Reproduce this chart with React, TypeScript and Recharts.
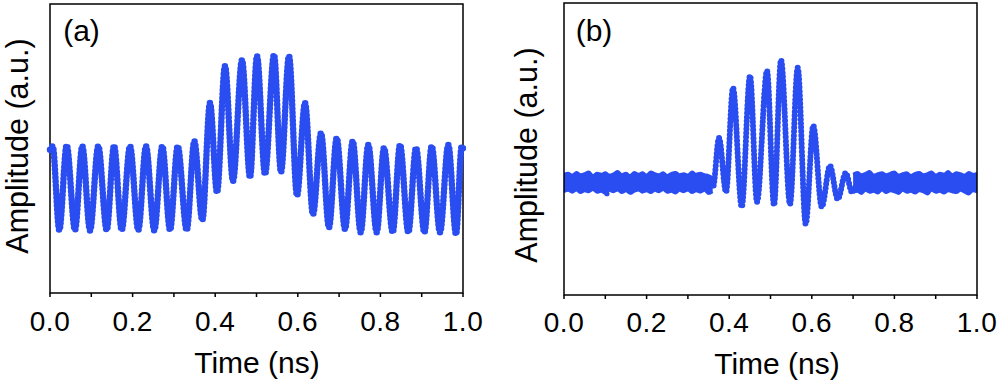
import { Area, ComposedChart, Line, ReferenceArea, Scatter, XAxis, YAxis } from "recharts";

const BLUE = "#2a4df2";
const FONT = "'Liberation Sans', Arial, sans-serif";

const timeTicks = [0, 0.1, 0.2, 0.3, 0.4, 0.5, 0.6, 0.7, 0.8, 0.9, 1.0];

// panel (a): peaks and troughs of the recorded waveform
const timeA = [
  0, 0.0065, 0.0225, 0.0404, 0.0605, 0.0782, 0.0969, 0.1169, 0.1373, 0.155, 0.1736,
  0.1937, 0.2138, 0.2324, 0.2525, 0.2719, 0.2906, 0.3092, 0.331, 0.3494, 0.3688,
  0.3874, 0.4044, 0.4237, 0.4431, 0.4649, 0.4843, 0.5012, 0.5206, 0.5424, 0.5593,
  0.5787, 0.5981, 0.6174, 0.6368, 0.6562, 0.6755, 0.6942, 0.7143, 0.7329, 0.7523,
  0.7707, 0.791, 0.8087, 0.8298, 0.8475, 0.8676, 0.8862, 0.9065, 0.9242, 0.9443,
  0.9644, 0.9831, 0.9969, 1.0,
];
const ampA = [
  0.85, 0.93, -0.93, 0.95, -0.93, 0.93, -0.94, 0.93, -0.93, 0.94, -0.93,
  0.93, -0.93, 0.93, -0.94, 0.93, -0.93, 0.93, -0.93, 1.04, -0.71,
  1.89, -0.09, 2.71, 0.16, 2.84, 0.24, 2.93, 0.31, 2.96, 0.36,
  2.93, -0.16, 1.89, -0.58, 1.22, -0.87, 1.11, -0.91, 1.04, -0.98,
  0.96, -0.98, 0.89, -0.98, 0.96, -0.98, 0.89, -0.98, 0.93, -0.98,
  0.96, -1.02, 0.93, 0.88,
];

// panel (b): noise floor edges before and after the pulse
const noiseTimeL = [
  0, 0.01, 0.02, 0.03, 0.04, 0.05, 0.06, 0.07, 0.08, 0.09, 0.1, 0.11, 0.12,
  0.13, 0.14, 0.15, 0.16, 0.17, 0.18, 0.19, 0.2, 0.21, 0.22, 0.23, 0.24, 0.25,
  0.26, 0.27, 0.28, 0.29, 0.3, 0.31, 0.32, 0.33, 0.34, 0.35, 0.36,
];
const noiseHiL = [
  0.2, 0.22, 0.18, 0.24, 0.19, 0.21, 0.25, 0.17, 0.22, 0.2, 0.23, 0.18, 0.21,
  0.26, 0.19, 0.22, 0.17, 0.24, 0.2, 0.23, 0.18, 0.25, 0.21, 0.19, 0.23, 0.17,
  0.22, 0.24, 0.19, 0.21, 0.18, 0.25, 0.2, 0.22, 0.19, 0.17, 0.12,
];
const noiseLoL = [
  -0.2, -0.17, -0.21, -0.16, -0.22, -0.18, -0.2, -0.15, -0.21, -0.19, -0.24, -0.17, -0.2,
  -0.16, -0.22, -0.18, -0.23, -0.19, -0.16, -0.21, -0.18, -0.22, -0.17, -0.2, -0.15, -0.21,
  -0.19, -0.23, -0.17, -0.2, -0.16, -0.22, -0.18, -0.21, -0.17, -0.24, -0.2,
];
const noiseTimeR = [
  0.7, 0.71, 0.72, 0.73, 0.74, 0.75, 0.76, 0.77, 0.78, 0.79, 0.8, 0.81, 0.82,
  0.83, 0.84, 0.85, 0.86, 0.87, 0.88, 0.89, 0.9, 0.91, 0.92, 0.93, 0.94, 0.95,
  0.96, 0.97, 0.98, 0.99, 1.0,
];
const noiseHiR = [
  0.2, 0.24, 0.19, 0.22, 0.26, 0.18, 0.21, 0.23, 0.19, 0.22, 0.25, 0.18, 0.21,
  0.23, 0.17, 0.22, 0.24, 0.19, 0.21, 0.25, 0.18, 0.22, 0.2, 0.26, 0.19, 0.23,
  0.21, 0.18, 0.24, 0.2, 0.22,
];
const noiseLoR = [
  -0.22, -0.19, -0.24, -0.17, -0.21, -0.19, -0.23, -0.16, -0.22, -0.18, -0.2, -0.24, -0.17,
  -0.21, -0.19, -0.23, -0.18, -0.2, -0.25, -0.17, -0.21, -0.19, -0.23, -0.18, -0.2, -0.22,
  -0.17, -0.21, -0.25, -0.18, -0.2,
];

// panel (b): pulse peaks and troughs
const timeB = [
  0.352, 0.3608, 0.3753, 0.3923, 0.4092, 0.4303, 0.4504, 0.4673, 0.4915, 0.5085, 0.5254,
  0.5472, 0.5659, 0.5852, 0.6036, 0.624, 0.644, 0.6627, 0.6821, 0.6973, 0.712,
];
const ampB = [
  0.02, -0.09, 1.0, -0.2, 2.11, -0.53, 2.38, -0.42, 2.49, -0.49, 2.73,
  -0.47, 2.56, -0.91, 1.27, -0.53, 0.38, -0.36, 0.22, -0.2, 0.02,
];

// stray samples below the noise floor
const strayTime = [0.104, 0.162];
const strayAmp = [-0.24, -0.2];

const rowsA = timeA.map((t, i) => ({ t, v: ampA[i] }));
const rowsB = [
  ...noiseTimeL.map((t, i) => ({ t, band: [noiseLoL[i], noiseHiL[i]] })),
  ...timeB.map((t, i) => ({ t, v: ampB[i] })),
  ...noiseTimeR.map((t, i) => ({ t, band: [noiseLoR[i], noiseHiR[i]] })),
];
const strayRows = strayTime.map((t, i) => ({ t, o: strayAmp[i] }));

const domainA: [number, number] = [-2.33, 4.09];
const domainB: [number, number] = [-2.49, 4.0];

const fmt = (v: number) => (Math.round(v * 10) % 2 === 0 ? v.toFixed(1) : "");

const tickStyle = { fill: "#000", fontSize: 28, fontFamily: FONT, letterSpacing: 0.5 };

export default function App() {
  return (
    <div style={{ position: "absolute", left: 0, top: 0, width: 1000, height: 384, background: "#fff" }}>
      <div style={{ position: "absolute", left: 0, top: 0 }}>
        <ComposedChart width={500} height={384} data={rowsA} margin={{ top: 4, right: 37, left: 50, bottom: 0 }}>
          <XAxis
            dataKey="t"
            type="number"
            domain={[0, 1]}
            ticks={timeTicks}
            tickFormatter={fmt}
            interval={0}
            height={91}
            axisLine={false}
            tickLine={{ stroke: "#000", strokeWidth: 1.5 }}
            tickSize={4}
            tickMargin={14}
            tick={tickStyle}
          />
          <YAxis hide domain={domainA} allowDataOverflow />
          <Line
            dataKey="v"
            type="monotone"
            stroke={BLUE}
            strokeWidth={6.5}
            strokeDasharray="0 4"
            strokeLinecap="round"
            dot={false}
            isAnimationActive={false}
          />
          <ReferenceArea x1={0} x2={1} y1={domainA[0]} y2={domainA[1]} fill="none" stroke="#000" strokeWidth={1.5} ifOverflow="visible" />
        </ComposedChart>
      </div>
      <div style={{ position: "absolute", left: 500, top: 0 }}>
        <ComposedChart width={500} height={384} data={rowsB} margin={{ top: 3, right: 23, left: 64, bottom: 0 }}>
          <XAxis
            dataKey="t"
            type="number"
            domain={[0, 1]}
            ticks={timeTicks}
            tickFormatter={fmt}
            interval={0}
            height={89}
            axisLine={false}
            tickLine={{ stroke: "#000", strokeWidth: 1.5 }}
            tickSize={4}
            tickMargin={13}
            tick={tickStyle}
          />
          <YAxis hide domain={domainB} allowDataOverflow />
          <Area
            dataKey="band"
            type="monotone"
            stroke={BLUE}
            strokeWidth={2.5}
            fill={BLUE}
            fillOpacity={1}
            dot={false}
            activeDot={false}
            isAnimationActive={false}
          />
          <Line
            dataKey="v"
            type="monotone"
            stroke={BLUE}
            strokeWidth={6}
            strokeDasharray="0 4"
            strokeLinecap="round"
            dot={false}
            isAnimationActive={false}
          />
          <Scatter data={strayRows} dataKey="o" fill={BLUE} shape={(p: any) => <circle cx={p.cx} cy={p.cy} r={2.6} fill={BLUE} />} isAnimationActive={false} />
          <ReferenceArea x1={0} x2={1} y1={domainB[0]} y2={domainB[1]} fill="none" stroke="#000" strokeWidth={1.5} ifOverflow="visible" />
        </ComposedChart>
      </div>
      <svg width={1000} height={384} style={{ position: "absolute", left: 0, top: 0, pointerEvents: "none" }}>
        <g fontFamily={FONT} fill="#000">
          <text x={81.5} y={41} fontSize={30} textAnchor="middle">(a)</text>
          <text x={594} y={41} fontSize={30} textAnchor="middle">(b)</text>
          <text transform="translate(28,146) rotate(-90)" fontSize={30.5} textAnchor="middle">Amplitude (a.u.)</text>
          <text transform="translate(537,155) rotate(-90)" fontSize={30.5} textAnchor="middle">Amplitude (a.u.)</text>
          <text x={257} y={373} fontSize={30} textAnchor="middle">Time (ns)</text>
          <text x={777} y={374} fontSize={30} textAnchor="middle">Time (ns)</text>
        </g>
      </svg>
    </div>
  );
}
